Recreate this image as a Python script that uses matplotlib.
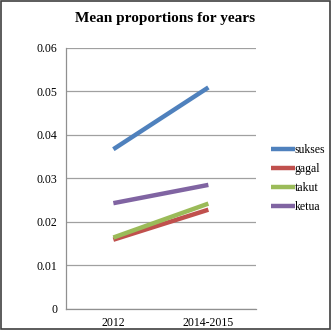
import matplotlib.pyplot as plt
from matplotlib.patches import Rectangle

years = ['2012', '2014-2015']
series = ['sukses', 'gagal', 'takut', 'ketua']
sukses = [0.0367, 0.0509]
gagal = [0.0159, 0.0228]
takut = [0.0164, 0.0242]
ketua = [0.0243, 0.0285]
colors = ['#4F81BD', '#C0504D', '#9BBB59', '#8064A2']

plt.rcParams['font.family'] = ['Liberation Serif', 'DejaVu Serif']

fig = plt.figure(figsize=(3.31, 3.30), dpi=100)
ax = fig.add_axes([0.199, 0.064, 0.574, 0.791])

x = range(len(years))
for name, vals, c in zip(series, [sukses, gagal, takut, ketua], colors):
    ax.plot(x, vals, color=c, lw=3.2, label=name, solid_capstyle='butt')

ax.set_xlim(-0.5, 1.5)
ax.set_ylim(0, 0.06)
ax.set_yticks([0, 0.01, 0.02, 0.03, 0.04, 0.05, 0.06])
ax.set_yticklabels(['0', '0.01', '0.02', '0.03', '0.04', '0.05', '0.06'])
ax.set_xticks(list(x))
ax.set_xticklabels(years)
ax.tick_params(length=0, labelsize=8.5, pad=6)
ax.grid(axis='y', color='#A0A0A0', lw=0.9)
ax.set_axisbelow(True)
for s in ['top', 'right']:
    ax.spines[s].set_visible(False)
for s in ['left', 'bottom']:
    ax.spines[s].set_color('#909090')
    ax.spines[s].set_linewidth(0.9)

fig.text(0.5, 0.945, 'Mean proportions for years', ha='center', va='center',
         fontsize=11, fontweight='bold')

ax.legend(loc='center left', bbox_to_anchor=(1.055, 0.5), frameon=False,
          fontsize=8.5, handlelength=2.0, handletextpad=0.0,
          labelspacing=0.6, borderaxespad=0)

fig.patches.append(Rectangle((0.002, 0.002), 0.996, 0.996, transform=fig.transFigure,
                             fill=False, edgecolor='#404040', lw=1.2))

fig.savefig('out.png', dpi=100)
